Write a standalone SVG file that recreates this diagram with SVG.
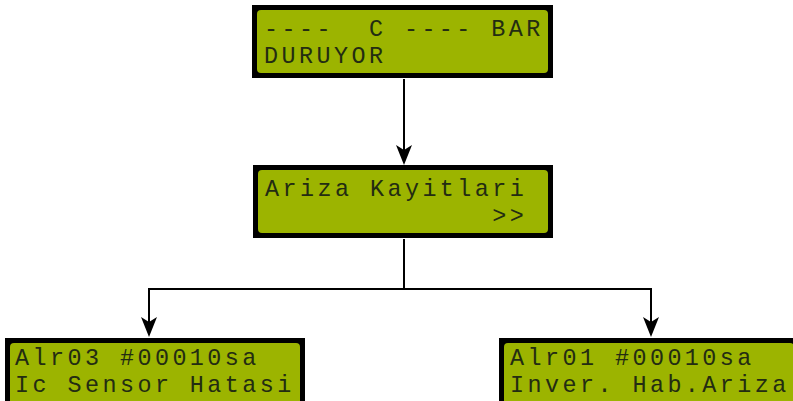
<svg xmlns="http://www.w3.org/2000/svg" width="793" height="401" viewBox="0 0 793 401">
<defs>
<style>
.frame{fill:#000;}
.screen{fill:#9cb400;}
.lcd{font-family:"Liberation Mono","DejaVu Sans Mono",monospace;font-size:23.4px;letter-spacing:3.45px;fill:#232c12;white-space:pre;}
.conn{fill:none;stroke:#000;stroke-width:2;}
.head{fill:#000;}
</style>
</defs>
<rect width="793" height="401" fill="#fff"/>
<g id="connectors">
<path class="conn" d="M404,79 V150"/>
<path class="head" d="M396,145 L404,150 L412,145 L404,165 Z"/>
<path class="conn" d="M404,239 V289 H149 V322"/>
<path class="conn" d="M404,289 H651 V322"/>
<path class="head" d="M141,317 L149,322 L157,317 L149,337 Z"/>
<path class="head" d="M643,317 L651,322 L659,317 L651,337 Z"/>
</g>
<g id="node-top">
<rect class="frame" x="252" y="5" width="301" height="73"/>
<rect class="screen" x="257" y="10" width="291" height="63" rx="4"/>
<text class="lcd" x="264" y="36" xml:space="preserve">----  C ---- BAR</text>
<text class="lcd" x="264" y="63" xml:space="preserve">DURUYOR</text>
</g>
<g id="node-mid">
<rect class="frame" x="253" y="165" width="300" height="73"/>
<rect class="screen" x="258" y="170" width="290" height="63" rx="4"/>
<text class="lcd" x="265" y="196" xml:space="preserve">Ariza Kayitlari</text>
<text class="lcd" x="265" y="223" xml:space="preserve">             &gt;&gt;</text>
</g>
<g id="node-left">
<rect class="frame" x="5" y="338" width="300" height="73"/>
<rect class="screen" x="10" y="343" width="290" height="63" rx="4"/>
<text class="lcd" x="15" y="365" xml:space="preserve">Alr03 #00010sa</text>
<text class="lcd" x="15" y="392" xml:space="preserve">Ic Sensor Hatasi</text>
</g>
<g id="node-right">
<rect class="frame" x="499" y="338" width="300" height="73"/>
<rect class="screen" x="504" y="343" width="290" height="63" rx="4"/>
<text class="lcd" x="510" y="365" xml:space="preserve">Alr01 #00010sa</text>
<text class="lcd" x="510" y="392" xml:space="preserve">Inver. Hab.Ariza</text>
</g>
</svg>
